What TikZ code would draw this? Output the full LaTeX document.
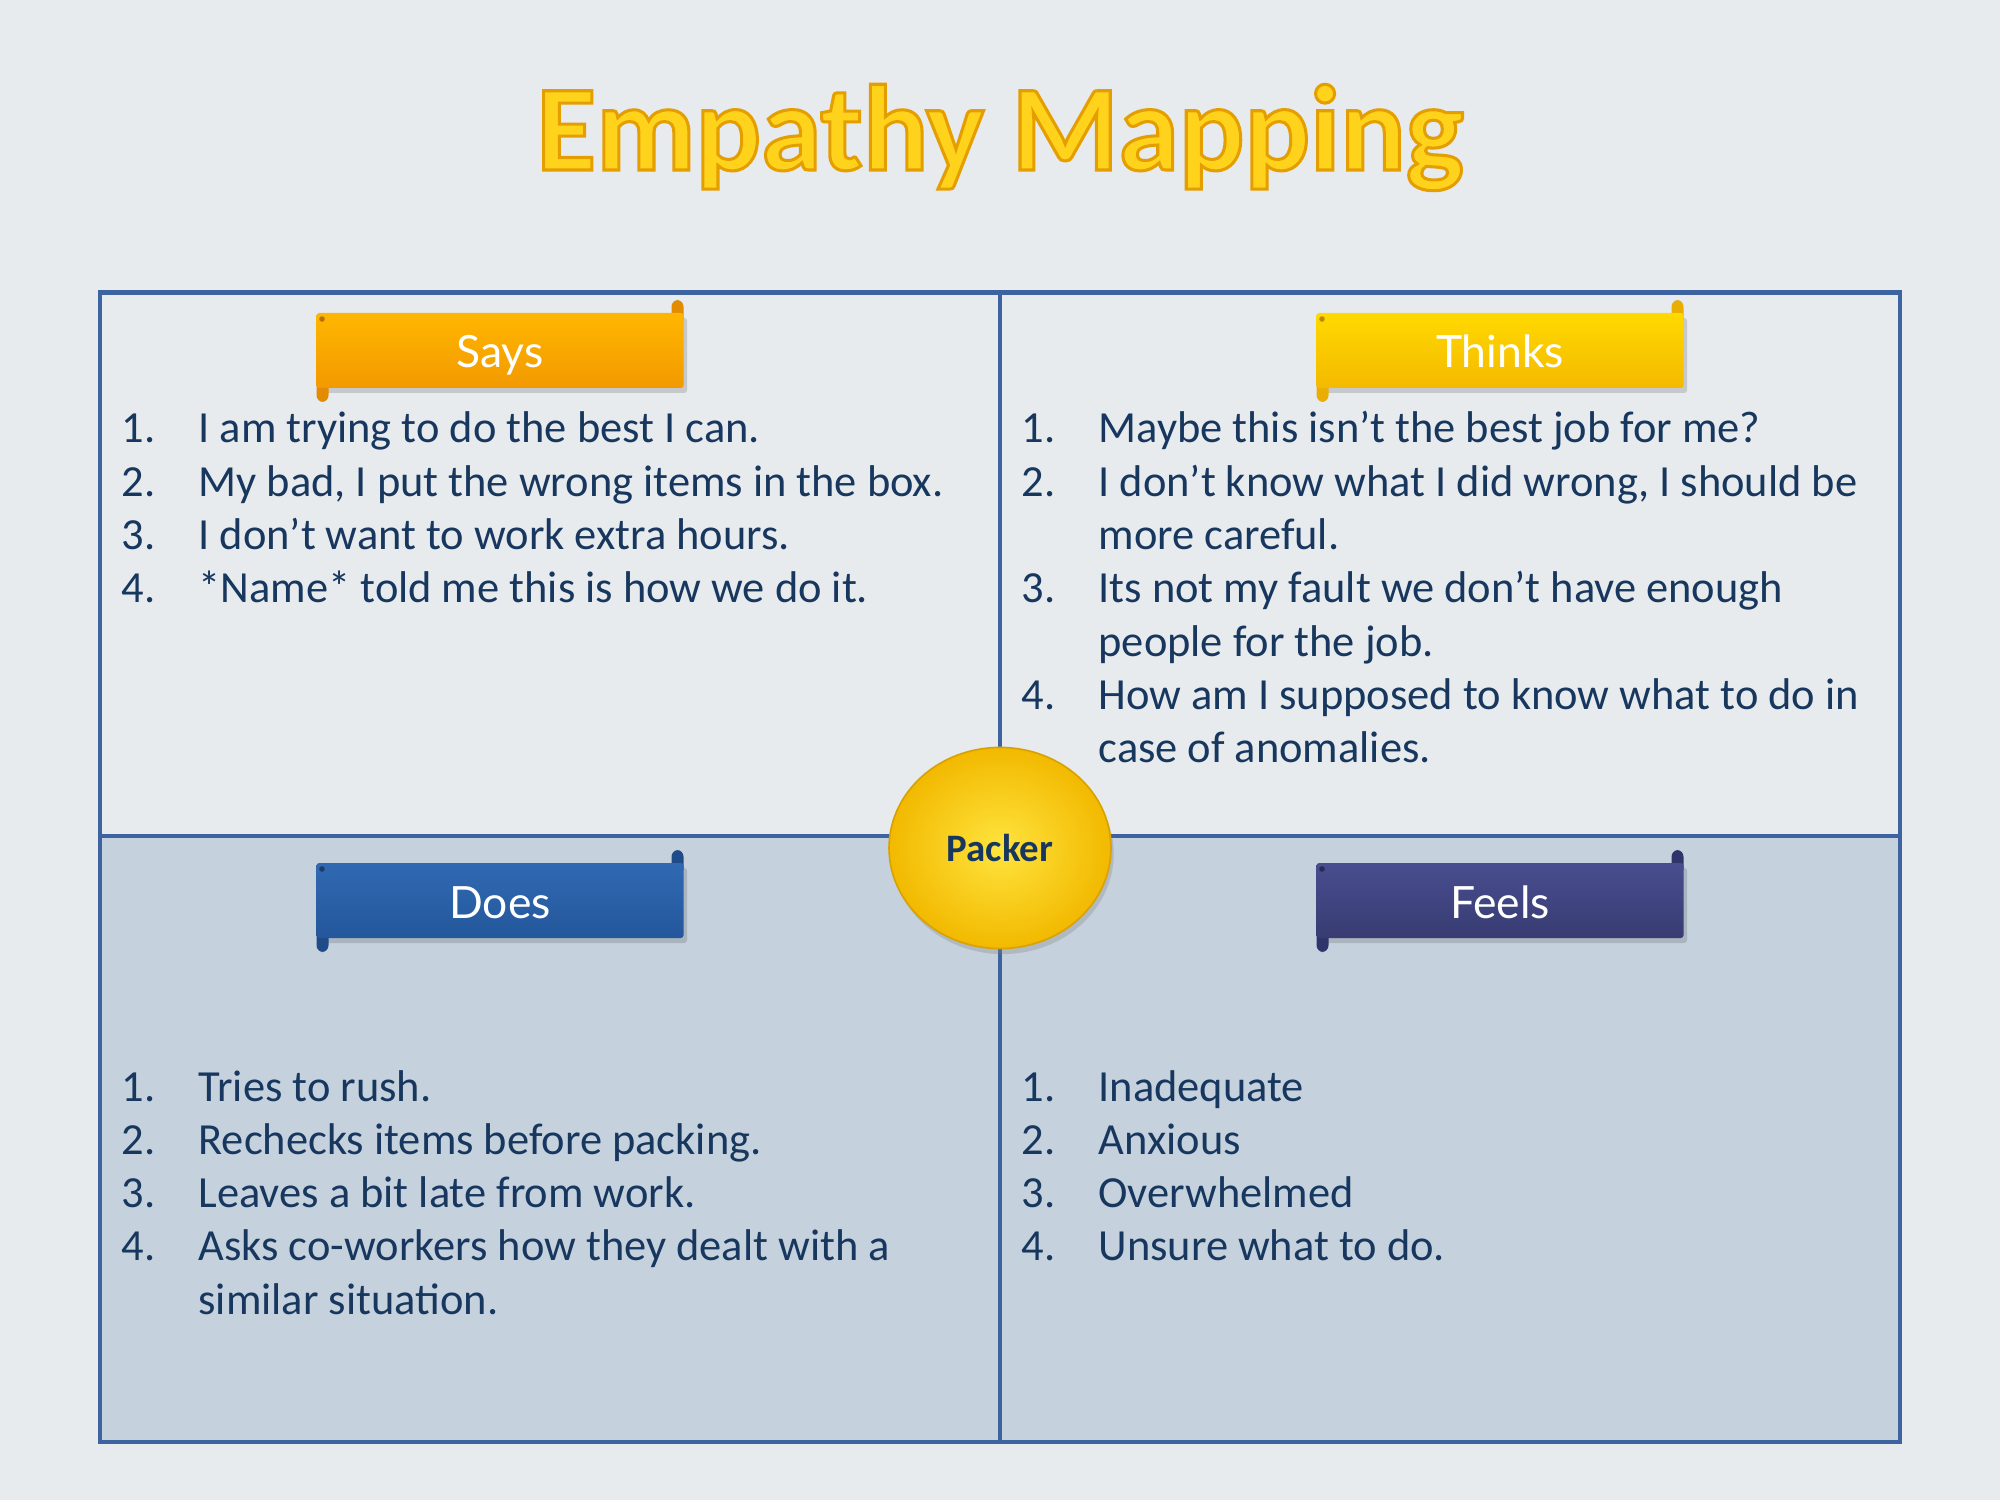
\documentclass[tikz,border=0pt]{standalone}
\usepackage{fontspec}
\setmainfont{Carlito}
\newfontfamily\bannerfont{Lato}
\usetikzlibrary{shapes.geometric,shadows}

\definecolor{pagebg}{HTML}{E7EBEE}
\definecolor{lowbg}{HTML}{C5D2DE}
\definecolor{framecol}{HTML}{3D63A0}
\definecolor{ink}{HTML}{17375E}
\definecolor{titlefill}{HTML}{FFD31C}
\definecolor{saysA}{HTML}{FFB600}
\definecolor{saysB}{HTML}{F29900}
\definecolor{saysT}{HTML}{E38C00}
\definecolor{thinkA}{HTML}{FFD900}
\definecolor{thinkB}{HTML}{F4B900}
\definecolor{thinkT}{HTML}{E9AE00}
\definecolor{doesA}{HTML}{3069B2}
\definecolor{doesB}{HTML}{24579B}
\definecolor{doesT}{HTML}{1F4C88}
\definecolor{feelsA}{HTML}{484D8F}
\definecolor{feelsB}{HTML}{383C72}
\definecolor{feelsT}{HTML}{30346A}
\definecolor{puckin}{HTML}{FFE43E}
\definecolor{puckout}{HTML}{F2B900}
\definecolor{puckrim}{HTML}{D9A200}

% gold heading: filled glyphs with an orange stroke (text render mode 2)
\newcommand{\goldtext}[1]{%
  \special{pdf:literal direct 2 Tr 1.1 w 0.90 0.62 0.00 RG}#1\special{pdf:literal direct 0 Tr}}

\tikzset{
  titletext/.style={anchor=base, inner sep=0, font=\fontsize{44}{50}\selectfont\bfseries},
  itemtext/.style={anchor=base west, inner sep=0, text=ink, font=\fontsize{16}{19}\selectfont},
  bannertext/.style={anchor=base, inner sep=0, text=white, font=\bannerfont\fontsize{16}{19}\selectfont},
  divider/.style={draw=framecol, line width=1.5pt},
}

% scroll banner: #1 name, #2 centre x, #3 top y, #4 top colour, #5 bottom colour, #6 tab colour, #7 label
\newcommand{\scrollbanner}[7]{%
  % soft shadow
  \fill[black, opacity=0.14, rounded corners=1pt]
    ({#2-181},{#3+5}) rectangle ({#2+187},{#3+80});
  % rolled ends
  \fill[#6, rounded corners=2.4pt] ({#2+171.5},{#3-13}) rectangle ({#2+183.5},{#3+12});
  \fill[#6, rounded corners=2.4pt] ({#2-183.5},{#3+62}) rectangle ({#2-171.5},{#3+89});
  % scroll body
  \shade[top color=#4, bottom color=#5, rounded corners=1pt]
    ({#2-183.5},{#3}) rectangle ({#2+183.5},{#3+75});
  \fill[#6!80!black] ({#2-178},{#3+6}) circle (1pt);
  \node[bannertext] (#1) at ({#2},{#3+55}) {#7};
}

\begin{document}
\begin{tikzpicture}[x=0.36pt,y=-0.36pt]
  % page
  \fill[pagebg] (0,0) rectangle (2000,1500);
  \useasboundingbox (0,0) rectangle (2000,1500);

  % title
  \node[titletext, text=titlefill] (title) at (1000,170) {\goldtext{Empathy Mapping}};

  % four quadrants
  \fill[lowbg] (100,836) rectangle (1900,1442);
  \coordinate (tl) at (100,292.5);
  \coordinate (br) at (1900,1442);
  \coordinate (vtop) at (1000,292.5);
  \coordinate (vbot) at (1000,1442);
  \coordinate (hleft) at (100,836);
  \coordinate (hright) at (1900,836);
  \draw[divider] (tl) rectangle (br);
  \draw[divider] (vtop) -- (vbot);
  \draw[divider] (hleft) -- (hright);

  % quadrant headings
  \scrollbanner{says}{500}{313}{saysA}{saysB}{saysT}{Says}
  \scrollbanner{thinks}{1500}{313}{thinkA}{thinkB}{thinkT}{Thinks}
  \scrollbanner{does}{500}{863}{doesA}{doesB}{doesT}{Does}
  \scrollbanner{feels}{1500}{863}{feelsA}{feelsB}{feelsT}{Feels}

  % Says
  \node[itemtext] (s1n) at (121,443)   {1.};
  \node[itemtext] (s1)  at (198,443)   {I am trying to do the best I can.};
  \node[itemtext] (s2n) at (121,496.3) {2.};
  \node[itemtext] (s2)  at (198,496.3) {My bad, I put the wrong items in the box.};
  \node[itemtext] (s3n) at (121,549.6) {3.};
  \node[itemtext] (s3)  at (198,549.6) {I don’t want to work extra hours.};
  \node[itemtext] (s4n) at (121,602.9) {4.};
  \node[itemtext] (s4)  at (198,602.9) {*Name* told me this is how we do it.};

  % Thinks
  \node[itemtext] (t1n) at (1021,443)   {1.};
  \node[itemtext] (t1)  at (1098,443)   {Maybe this isn’t the best job for me?};
  \node[itemtext] (t2n) at (1021,496.3) {2.};
  \node[itemtext] (t2)  at (1098,496.3) {I don’t know what I did wrong, I should be};
  \node[itemtext] (t2b) at (1098,549.6) {more careful.};
  \node[itemtext] (t3n) at (1021,602.9) {3.};
  \node[itemtext] (t3)  at (1098,602.9) {Its not my fault we don’t have enough};
  \node[itemtext] (t3b) at (1098,656.2) {people for the job.};
  \node[itemtext] (t4n) at (1021,709.5) {4.};
  \node[itemtext] (t4)  at (1098,709.5) {How am I supposed to know what to do in};
  \node[itemtext] (t4b) at (1098,762.8) {case of anomalies.};

  % Does
  \node[itemtext] (d1n) at (121,1101)   {1.};
  \node[itemtext] (d1)  at (198,1101)   {Tries to rush.};
  \node[itemtext] (d2n) at (121,1154.3) {2.};
  \node[itemtext] (d2)  at (198,1154.3) {Rechecks items before packing.};
  \node[itemtext] (d3n) at (121,1207.6) {3.};
  \node[itemtext] (d3)  at (198,1207.6) {Leaves a bit late from work.};
  \node[itemtext] (d4n) at (121,1260.9) {4.};
  \node[itemtext] (d4)  at (198,1260.9) {Asks co-workers how they dealt with a};
  \node[itemtext] (d4b) at (198,1314.2) {similar situation.};

  % Feels
  \node[itemtext] (f1n) at (1021,1101)   {1.};
  \node[itemtext] (f1)  at (1098,1101)   {Inadequate};
  \node[itemtext] (f2n) at (1021,1154.3) {2.};
  \node[itemtext] (f2)  at (1098,1154.3) {Anxious};
  \node[itemtext] (f3n) at (1021,1207.6) {3.};
  \node[itemtext] (f3)  at (1098,1207.6) {Overwhelmed};
  \node[itemtext] (f4n) at (1021,1260.9) {4.};
  \node[itemtext] (f4)  at (1098,1260.9) {Unsure what to do.};

  % persona badge in the centre
  \node[ellipse, minimum width=79.9pt, minimum height=72.4pt, inner sep=0,
        inner color=puckin, outer color=puckout, draw=puckrim, line width=0.6pt,
        drop shadow={opacity=0.3, shadow xshift=1pt, shadow yshift=-2pt},
        text=ink, font=\fontsize{14}{16}\selectfont\bfseries]
        (packer) at (1000,848) {Packer};
\end{tikzpicture}
\end{document}
